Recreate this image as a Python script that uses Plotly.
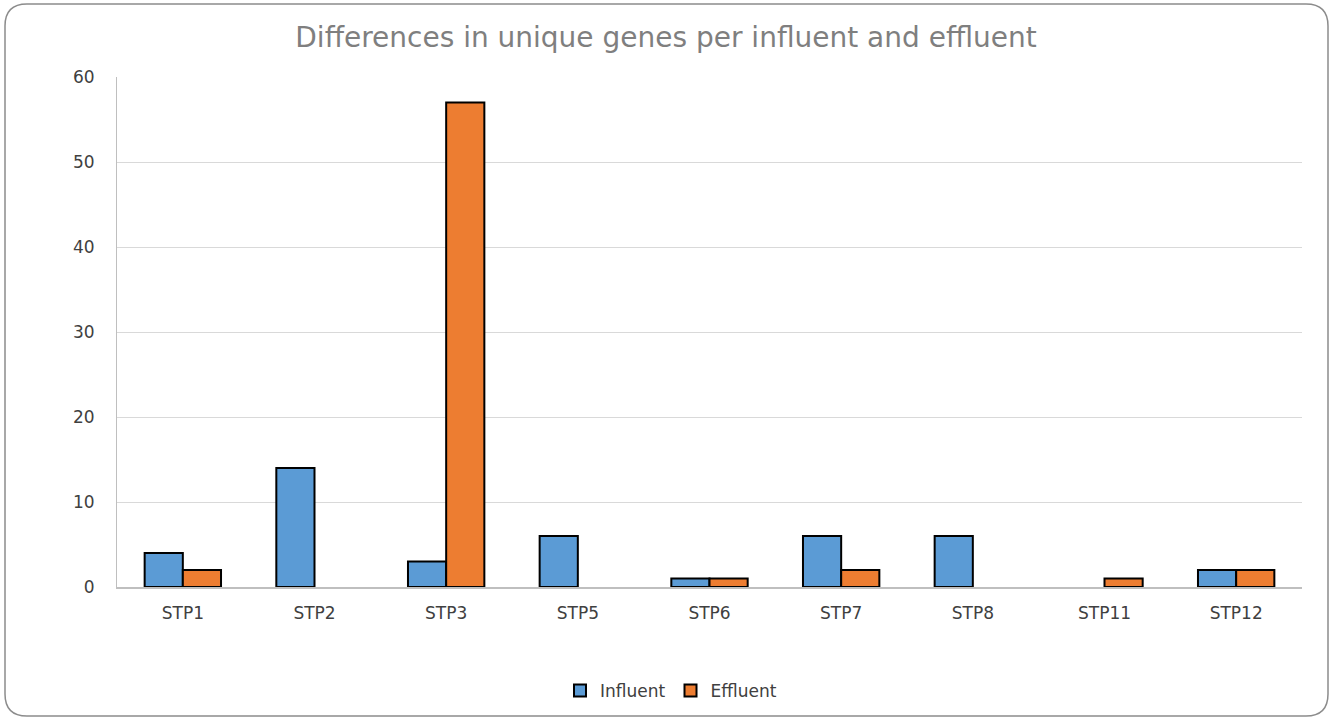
import plotly.graph_objects as go

# Unique genes detected per treatment plant
plants = ["STP1", "STP2", "STP3", "STP5", "STP6", "STP7", "STP8", "STP11", "STP12"]
influent = [4, 14, 3, 6, 1, 6, 6, 0, 2]
effluent = [2, 0, 57, 0, 1, 2, 0, 1, 2]
y_ticks = [0, 10, 20, 30, 40, 50, 60]

W, H = 1330, 719
L, R, T, B = 117, 28, 77, 132
FONT = "DejaVu Sans"


def nz(vals):
    # zero counts get no bar at all
    return [v if v else None for v in vals]


fig = go.Figure()
fig.add_trace(go.Bar(name="Influent", x=plants, y=nz(influent),
                     marker=dict(color="#5B9BD5", line=dict(color="#000000", width=2))))
fig.add_trace(go.Bar(name="Effluent", x=plants, y=nz(effluent),
                     marker=dict(color="#ED7D31", line=dict(color="#000000", width=2))))


# rounded outer frame of the chart, in paper coordinates
def px(x):
    return (x - L) / (W - L - R)


def py(y):
    return (H - B - y) / (H - T - B)


x0, x1, y0, y1, r = 5, 1328, 4, 716, 22
path = (f"M {px(x0 + r)},{py(y0)} L {px(x1 - r)},{py(y0)} "
        f"Q {px(x1)},{py(y0)} {px(x1)},{py(y0 + r)} "
        f"L {px(x1)},{py(y1 - r)} Q {px(x1)},{py(y1)} {px(x1 - r)},{py(y1)} "
        f"L {px(x0 + r)},{py(y1)} Q {px(x0)},{py(y1)} {px(x0)},{py(y1 - r)} "
        f"L {px(x0)},{py(y0 + r)} Q {px(x0)},{py(y0)} {px(x0 + r)},{py(y0)} Z")

fig.update_layout(
    width=W, height=H,
    margin=dict(l=L, r=R, t=T, b=B),
    paper_bgcolor="white", plot_bgcolor="white",
    font=dict(family=FONT, size=17, color="#404040"),
    title=dict(text="Differences in unique genes per influent and effluent",
               x=666 / W, xref="container", xanchor="center",
               y=1 - 37 / H, yanchor="middle",
               font=dict(family=FONT, size=28, color="#7F7F7F")),
    barmode="group", bargap=0.42, bargroupgap=0,
    showlegend=True,
    legend=dict(orientation="h", xref="container", x=671 / W, xanchor="center",
                yref="container", y=1 - 691 / H, yanchor="middle",
                bgcolor="rgba(0,0,0,0)",
                font=dict(family=FONT, size=17, color="#404040"),
                itemwidth=30, traceorder="normal"),
    xaxis=dict(showgrid=False, showline=True, linecolor="#BFBFBF", linewidth=1.5,
               ticks="", tickfont=dict(size=17, color="#404040"), ticklabelstandoff=10),
    yaxis=dict(range=[0, 60], tickvals=y_ticks, showgrid=True, gridcolor="#D9D9D9",
               gridwidth=1, showline=True, linecolor="#BFBFBF", linewidth=1,
               zeroline=False, ticks="", ticklabelstandoff=18,
               tickfont=dict(size=17, color="#404040")),
    shapes=[dict(type="path", xref="paper", yref="paper", path=path,
                 line=dict(color="#8C8C8C", width=1.5), fillcolor="rgba(0,0,0,0)",
                 layer="below")],
)

fig.write_html("out.html")
